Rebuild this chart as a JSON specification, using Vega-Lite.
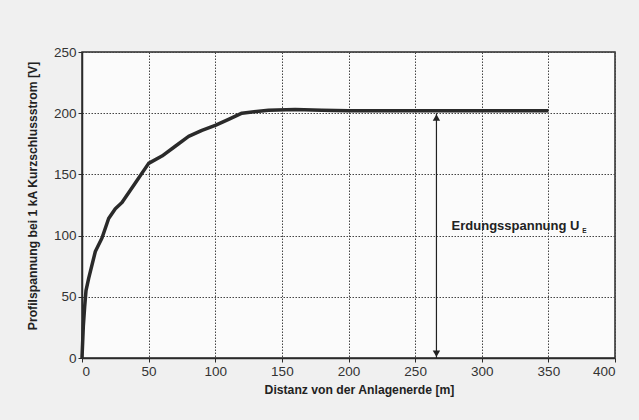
{
  "$schema": "https://vega.github.io/schema/vega-lite/v6.json",
  "width": 533,
  "height": 306,
  "autosize": {"type": "none"},
  "padding": {"left": 82, "top": 52, "right": 24, "bottom": 62},
  "background": "#f0f0f0",
  "config": {
    "view": {"fill": "#fbfbfb", "stroke": "#2a2a2a", "strokeWidth": 1.5},
    "font": "Liberation Sans",
    "axis": {
      "labelFont": "Liberation Sans",
      "titleFont": "Liberation Sans",
      "labelFontSize": 13.5,
      "labelColor": "#333333",
      "titleFontSize": 12.2,
      "titleFontWeight": "bold",
      "titleColor": "#222222",
      "gridColor": "#444444",
      "gridDash": [1.5, 1.5],
      "gridWidth": 1,
      "gridOpacity": 1,
      "domainColor": "#2a2a2a",
      "domainWidth": 1.5,
      "tickColor": "#2a2a2a",
      "tickSize": 4,
      "labelPadding": 2
    }
  },
  "datasets": {
    "curve": [
      {"d": 0, "u": 0}, {"d": 1, "u": 26}, {"d": 2, "u": 42}, {"d": 3, "u": 55},
      {"d": 5, "u": 65}, {"d": 10, "u": 87}, {"d": 15, "u": 98}, {"d": 20, "u": 114},
      {"d": 25, "u": 122}, {"d": 30, "u": 127}, {"d": 40, "u": 143}, {"d": 50, "u": 159},
      {"d": 60, "u": 165}, {"d": 70, "u": 173}, {"d": 80, "u": 181}, {"d": 90, "u": 186},
      {"d": 100, "u": 190}, {"d": 110, "u": 195}, {"d": 120, "u": 200}, {"d": 140, "u": 202.5},
      {"d": 160, "u": 203}, {"d": 180, "u": 202.5}, {"d": 200, "u": 202}, {"d": 220, "u": 202},
      {"d": 240, "u": 202}, {"d": 260, "u": 202}, {"d": 280, "u": 202}, {"d": 300, "u": 202},
      {"d": 320, "u": 202}, {"d": 340, "u": 202}, {"d": 350, "u": 202}
    ],
    "arrow": [{"d": 266, "u0": 0, "u1": 200}],
    "heads": [
      {"d": 266, "u": 196.5, "shape": "triangle-up"},
      {"d": 266, "u": 3.5, "shape": "triangle-down"}
    ],
    "label": [{"d": 373.3, "u": 107.5, "t": "Erdungsspannung U"}],
    "sub": [{"d": 375.5, "u": 102.3, "t": "E"}]
  },
  "layer": [
    {
      "data": {"name": "curve"},
      "mark": {"type": "line", "color": "#2a2a2a", "strokeWidth": 3.5, "strokeJoin": "round"},
      "encoding": {
        "x": {
          "field": "d", "type": "quantitative",
          "scale": {"domain": [0, 400], "nice": false},
          "axis": {"values": [0, 50, 100, 150, 200, 250, 300, 350, 400], "grid": true,
                   "title": "Distanz von der Anlagenerde  [m]", "titlePadding": 6, "titleX": 277}
        },
        "y": {
          "field": "u", "type": "quantitative",
          "scale": {"domain": [0, 250], "nice": false},
          "axis": {"values": [0, 50, 100, 150, 200, 250], "grid": true,
                   "title": "Profilspannung bei 1 kA Kurzschlussstrom [V]", "titlePadding": 14, "titleY": 143.5}
        }
      }
    },
    {
      "data": {"name": "arrow"},
      "mark": {"type": "rule", "color": "#222222", "strokeWidth": 1.2},
      "encoding": {
        "x": {"field": "d", "type": "quantitative"},
        "y": {"field": "u0", "type": "quantitative"},
        "y2": {"field": "u1"}
      }
    },
    {
      "data": {"name": "heads"},
      "mark": {"type": "point", "filled": true, "color": "#222222", "size": 55, "opacity": 1},
      "encoding": {
        "x": {"field": "d", "type": "quantitative"},
        "y": {"field": "u", "type": "quantitative"},
        "shape": {"field": "shape", "type": "nominal", "scale": null}
      }
    },
    {
      "data": {"name": "label"},
      "mark": {"type": "text", "align": "right", "baseline": "middle", "fontSize": 13, "fontWeight": "bold", "color": "#222222", "font": "Liberation Sans"},
      "encoding": {
        "x": {"field": "d", "type": "quantitative"},
        "y": {"field": "u", "type": "quantitative"},
        "text": {"field": "t"}
      }
    },
    {
      "data": {"name": "sub"},
      "mark": {"type": "text", "align": "left", "baseline": "alphabetic", "fontSize": 6.5, "fontWeight": "bold", "color": "#222222", "font": "Liberation Sans"},
      "encoding": {
        "x": {"field": "d", "type": "quantitative"},
        "y": {"field": "u", "type": "quantitative"},
        "text": {"field": "t"}
      }
    }
  ]
}
